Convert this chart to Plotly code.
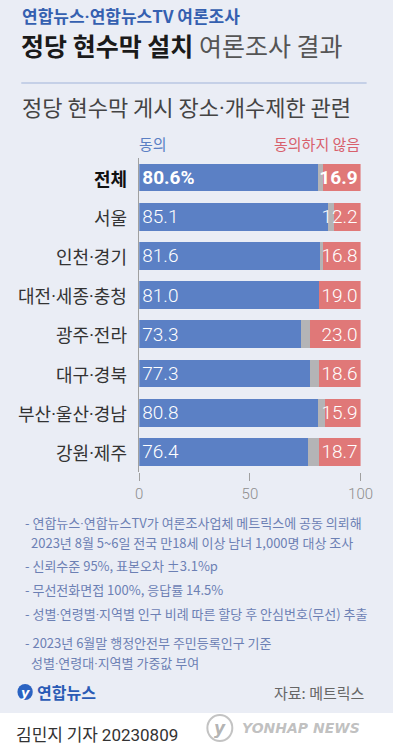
import plotly.graph_objects as go

W, H = 393, 750

regions = ["전체", "서울", "인천·경기", "대전·세종·충청", "광주·전라", "대구·경북", "부산·울산·경남", "강원·제주"]
agree = [80.6, 85.1, 81.6, 81.0, 73.3, 77.3, 80.8, 76.4]
dont_know = [2.5, 2.7, 1.6, 0.0, 3.7, 4.1, 3.3, 4.9]
disagree = [16.9, 12.2, 16.8, 19.0, 23.0, 18.6, 15.9, 18.7]
x_ticks = [0, 50, 100]

notes = [
    (20, 522, "- 연합뉴스·연합뉴스TV가 여론조사업체 메트릭스에 공동 의뢰해"),
    (26, 542, "2023년 8월 5~6일 전국 만18세 이상 남녀 1,000명 대상 조사"),
    (20, 565, "- 신뢰수준 95%, 표본오차 ±3.1%p"),
    (20, 589, "- 무선전화면접 100%, 응답률 14.5%"),
    (20, 613, "- 성별·연령별·지역별 인구 비례 따른 할당 후 안심번호(무선) 추출"),
    (20, 642, "- 2023년 6월말 행정안전부 주민등록인구 기준"),
    (26, 662, "성별·연령대·지역별 가중값 부여"),
]

KR = "Noto Sans CJK KR"
BLUE = "#5b80c5"
RED = "#e07878"
GRAY = "#b4b4b6"
BG = "#eaedf5"

def px(x):
    return x / W

def py(y):
    return 1 - y / H

def nd(s):
    # narrow middle dot
    return s.replace("·", "<span style='font-family:Roboto'>·</span>")

agree_text = [f"<b>{v:.1f}%</b>" if i == 0 else f"{v:.1f}" for i, v in enumerate(agree)]
dis_text = [f"<b>{v:.1f}</b>" if i == 0 else f"{v:.1f}" for i, v in enumerate(disagree)]

fig = go.Figure()
fig.add_trace(go.Bar(
    y=regions, x=agree, orientation="h", marker=dict(color=BLUE, line=dict(width=0)),
    text=agree_text, textposition="inside", insidetextanchor="start", constraintext="none",
    textangle=0, textfont=dict(family="Roboto", size=19, color="white", weight=300),
    hoverinfo="skip", name="동의"))
fig.add_trace(go.Bar(
    y=regions, x=dont_know, orientation="h", marker=dict(color=GRAY, line=dict(width=0)),
    hoverinfo="skip", name="모름"))
fig.add_trace(go.Bar(
    y=regions, x=disagree, orientation="h", marker=dict(color=RED, line=dict(width=0)),
    text=dis_text, textposition="inside", insidetextanchor="end", constraintext="none",
    textangle=0, textfont=dict(family="Roboto", size=19, color="white", weight=300),
    hoverinfo="skip", name="동의하지 않음"))

top_px, bot_px = 157.9, 471.6
fig.update_layout(
    width=W, height=H, autosize=False, margin=dict(l=0, r=0, t=0, b=0),
    paper_bgcolor=BG, plot_bgcolor="rgba(0,0,0,0)",
    barmode="stack", bargap=0.29, showlegend=False,
    font=dict(family=KR),
    xaxis=dict(domain=[px(141), px(371.7)], range=[0, 100], tickvals=x_ticks,
               ticks="outside", ticklen=8, tickcolor="#a0a0a0", tickwidth=1,
               tickfont=dict(family="Roboto", size=15, color="#8e8e8e", weight=300),
               showgrid=False, zeroline=False, showline=False, fixedrange=True),
    yaxis=dict(domain=[py(bot_px), py(top_px)], autorange="reversed",
               showticklabels=False, ticks="", showgrid=False, zeroline=False,
               showline=True, linecolor="#a0a0a0", linewidth=1, fixedrange=True),
)

shapes = [
    dict(type="line", xref="paper", yref="paper", x0=px(18), x1=px(378), y0=py(83), y1=py(83),
         line=dict(color="#b8c6e2", width=1.5)),
    dict(type="rect", xref="paper", yref="paper", x0=-0.1, x1=1.1, y0=-0.1, y1=py(713),
         fillcolor="white", line=dict(width=0), layer="below"),
    dict(type="circle", xref="paper", yref="paper", x0=px(14), x1=px(30), y0=py(700), y1=py(684),
         fillcolor="#2a63c2", line=dict(width=0)),
    dict(type="circle", xref="paper", yref="paper", x0=px(212), x1=px(238), y0=py(741), y1=py(715),
         fillcolor="rgba(255,255,255,0.6)", line=dict(color="rgba(170,170,170,0.7)", width=2)),
]

ann = []
def text(x, y, s, size, color, anchor="left", family=KR):
    ann.append(dict(xref="paper", yref="paper", x=px(x), y=py(y), text=s, showarrow=False,
                    xanchor=anchor, yanchor="middle", font=dict(family=family, size=size, color=color)))

text(17, 15, "<b>" + nd("연합뉴스·연합뉴스TV 여론조사") + "</b>", 17, "#3560b0")
text(16, 45, "<b>정당 현수막 설치</b> <span style='color:#555'>여론조사 결과</span>", 25, "#1a1a1a")
text(190, 106, nd("정당 현수막 게시 장소·개수제한 관련"), 22, "#444444", anchor="center")
text(139, 143, "동의", 15, "#5a7fc4")
text(373, 143, "동의하지 않음", 15, "#d8606c", anchor="right")

for i, r in enumerate(regions):
    label = f"<b>{nd(r)}</b>" if i == 0 else nd(r)
    ann.append(dict(xref="paper", yref="y", x=px(130), y=r, text=label, showarrow=False,
                    xanchor="right", yanchor="middle",
                    font=dict(family=KR, size=18, color="#111" if i == 0 else "#333")))

for x, y, s in notes:
    text(x, y, nd(s), 13, "#6c80b4")

text(32, 692, "<b>연합뉴스</b>", 16, "#2a5bb5")
text(22, 692, "<b><i>y</i></b>", 13, "white", anchor="center", family="DejaVu Sans")
text(378, 692, "자료: 메트릭스", 15, "#666666", anchor="right")
text(10, 733, "김민지 기자 <span style='font-family:Roboto'>20230809</span>", 17, "#333333")
text(225, 728, "<b><i>y</i></b>", 17, "rgba(160,160,160,0.8)", anchor="center", family="DejaVu Sans")
text(373, 728, "<b><i>YONHAP NEWS</i></b>", 14, "rgba(185,185,185,0.9)", anchor="right", family="DejaVu Sans")

fig.update_layout(shapes=shapes, annotations=ann)
fig.write_html("out.html", config={"displayModeBar": False, "responsive": False},
               post_script="document.body.style.margin='0';document.body.style.padding='0';"
                           "document.body.style.overflow='hidden';")
